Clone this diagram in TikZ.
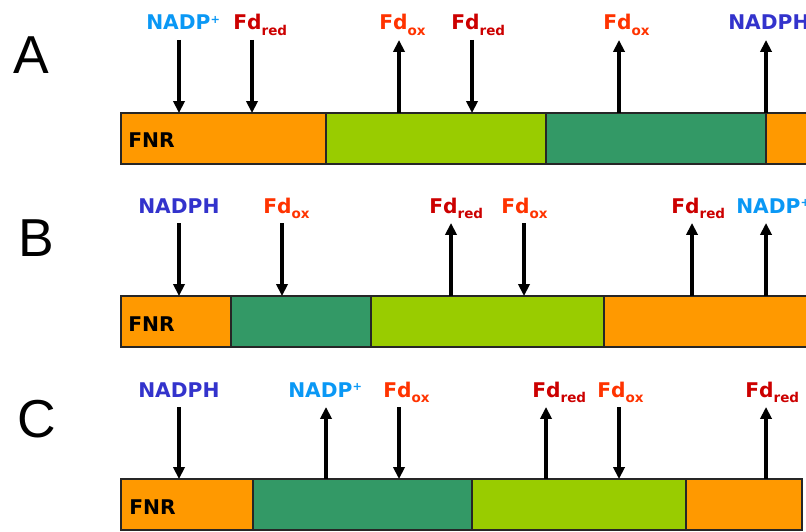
\documentclass[tikz,border=0pt]{standalone}
\usepackage{fontspec}
\setmainfont{DejaVu Sans}
\newfontfamily\letterfont{Liberation Sans}
\usetikzlibrary{arrows.meta}
\definecolor{fnrorange}{HTML}{FF9900}
\definecolor{limegreen}{HTML}{99CC00}
\definecolor{seagreen}{HTML}{339966}
\definecolor{nadpblue}{HTML}{0A98F5}
\definecolor{nadphblue}{HTML}{3333CC}
\definecolor{fdredcol}{HTML}{CC0000}
\definecolor{fdoxcol}{HTML}{FF3300}
\newcommand{\lo}[1]{\raisebox{-0.5ex}{\fontsize{9.6}{9.6}\selectfont #1}}
\newcommand{\nadpplus}{\textcolor{nadpblue}{NADP\raisebox{0.55ex}{\fontsize{8}{8}\selectfont +}}}
\newcommand{\nadph}{\textcolor{nadphblue}{NADPH}}
\newcommand{\fdred}{\textcolor{fdredcol}{Fd\lo{red}}}
\newcommand{\fdox}{\textcolor{fdoxcol}{Fd\lo{ox}}}

\begin{document}
\begin{tikzpicture}[x={(0.025cm,0)},y={(0,-0.025cm)},
  seg/.style={draw=black!85,line width=0.8pt},
  flow/.style={line width=2.4pt},
  inflow/.style={-{Triangle[length=8.5pt,width=8pt]}},
  outflow/.style={{Triangle[length=8.5pt,width=8pt]}-},
  lbl/.style={anchor=base west,inner sep=0pt,font=\fontsize{14.4}{16}\selectfont\bfseries},
  panel/.style={anchor=base west,inner sep=0pt,font=\fontsize{38}{40}\selectfont\letterfont}]
\clip (0,0) rectangle (806,531);
% A
\node[panel] (pA) at (13,74) {A};
\draw[seg,fill=fnrorange] (121,113) rectangle (326,164);
\draw[seg,fill=limegreen] (326,113) rectangle (546,164);
\draw[seg,fill=seagreen] (546,113) rectangle (766,164);
\draw[seg,fill=fnrorange] (766,113) rectangle (830,164);
\node[lbl] (fnrA) at (128,148) {FNR};
\foreach \x/\dir/\txt/\lx [count=\i] in {179/inflow/\nadpplus/146, 252/inflow/\fdred/233,
    399/outflow/\fdox/379, 472/inflow/\fdred/451, 619/outflow/\fdox/603, 766/outflow/\nadph/728}{
  \coordinate (tA\i) at (\x,40);
  \coordinate (bA\i) at (\x,113);
  \node[lbl] (lA\i) at (\lx,30) {\txt};
  \draw[flow,\dir] (tA\i) -- (bA\i);
}
% B
\node[panel] (pB) at (18,256) {B};
\draw[seg,fill=fnrorange] (121,296) rectangle (231,347);
\draw[seg,fill=seagreen] (231,296) rectangle (371,347);
\draw[seg,fill=limegreen] (371,296) rectangle (604,347);
\draw[seg,fill=fnrorange] (604,296) rectangle (830,347);
\node[lbl] (fnrB) at (128,331) {FNR};
\foreach \x/\dir/\txt/\lx [count=\i] in {179/inflow/\nadph/138, 282/inflow/\fdox/263,
    451/outflow/\fdred/429, 524/inflow/\fdox/501, 692/outflow/\fdred/671, 766/outflow/\nadpplus/736}{
  \coordinate (tB\i) at (\x,223);
  \coordinate (bB\i) at (\x,296);
  \node[lbl] (lB\i) at (\lx,213) {\txt};
  \draw[flow,\dir] (tB\i) -- (bB\i);
}
% C
\node[panel] (pC) at (17,437) {C};
\draw[seg,fill=fnrorange] (121,479) rectangle (253,530);
\draw[seg,fill=seagreen] (253,479) rectangle (472,530);
\draw[seg,fill=limegreen] (472,479) rectangle (686,530);
\draw[seg,fill=fnrorange] (686,479) rectangle (802,530);
\node[lbl] (fnrC) at (129,514) {FNR};
\foreach \x/\dir/\txt/\lx [count=\i] in {179/inflow/\nadph/138, 326/outflow/\nadpplus/288,
    399/inflow/\fdox/383, 546/outflow/\fdred/532, 619/inflow/\fdox/597, 766/outflow/\fdred/745}{
  \coordinate (tC\i) at (\x,407);
  \coordinate (bC\i) at (\x,479);
  \node[lbl] (lC\i) at (\lx,397) {\txt};
  \draw[flow,\dir] (tC\i) -- (bC\i);
}
\end{tikzpicture}
\end{document}
